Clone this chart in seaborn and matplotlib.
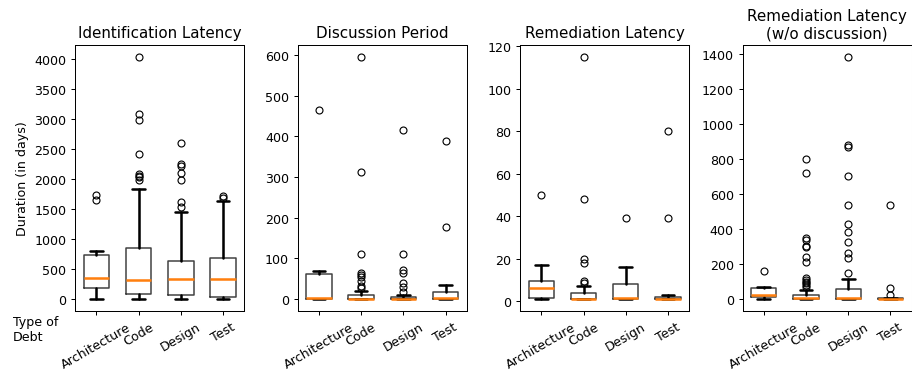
import matplotlib
matplotlib.use("Agg")
import matplotlib.pyplot as plt
import seaborn as sns

# ---------------- data ----------------
categories = ["Architecture", "Code", "Design", "Test"]
panel_titles = ["Identification Latency", "Discussion Period",
                "Remediation Latency", "Remediation Latency\n(w/o discussion)"]

ident_whislo = [0, 0, 0, 0]
ident_q1 = [194, 94, 78, 39]
ident_med = [356, 317, 339, 339]
ident_q3 = [733, 850, 639, 683]
ident_whishi = [800, 1833, 1456, 1639]
ident_fliers = [[1660, 1740],
                [1990, 2030, 2060, 2090, 2420, 2990, 3090, 4040],
                [1530, 1620, 1980, 2100, 2220, 2260, 2600],
                [1680, 1720]]

disc_whislo = [0, 0, 0, 0]
disc_q1 = [0, 0, 0, 0]
disc_med = [3, 1, 1, 3]
disc_q3 = [62, 10, 6.5, 17]
disc_whishi = [70, 19, 11, 36]
disc_fliers = [[465],
               [27, 33, 45, 55, 60, 65, 110, 312, 595],
               [18, 30, 40, 65, 72, 110, 416],
               [178, 388]]

rem_whislo = [1, 1, 1, 1]
rem_q1 = [1.5, 1, 1, 1]
rem_med = [6.3, 1, 1.5, 1]
rem_q3 = [9.6, 3.8, 8, 2.2]
rem_whishi = [17, 7.2, 16.3, 3]
rem_fliers = [[50],
              [8.5, 9.5, 18, 20, 48, 115],
              [39],
              [39, 80]]

remwo_whislo = [0, 0, 0, 0]
remwo_q1 = [13, 3, 0, 0]
remwo_med = [25, 5, 5, 0]
remwo_q3 = [66, 23, 57, 5]
remwo_whishi = [72, 51, 114, 5]
remwo_fliers = [[161],
                [70, 80, 90, 100, 110, 120, 210, 240, 295, 305, 340, 350, 720, 800],
                [150, 237, 262, 329, 384, 427, 536, 703, 868, 878, 1383],
                [23, 63, 535]]

panels = [
    (ident_whislo, ident_q1, ident_med, ident_q3, ident_whishi, ident_fliers),
    (disc_whislo, disc_q1, disc_med, disc_q3, disc_whishi, disc_fliers),
    (rem_whislo, rem_q1, rem_med, rem_q3, rem_whishi, rem_fliers),
    (remwo_whislo, remwo_q1, remwo_med, remwo_q3, remwo_whishi, remwo_fliers),
]

# ---------------- style ----------------
sns.set_style("ticks", {"axes.edgecolor": "black", "text.color": "black",
                        "xtick.color": "black", "ytick.color": "black",
                        "axes.labelcolor": "black"})
plt.rcParams["font.family"] = ["DejaVu Sans"]
plt.rcParams["font.size"] = 10

DPI = 91
fig, axes = plt.subplots(1, 4, figsize=(912 / DPI, 373 / DPI), dpi=DPI)
fig.subplots_adjust(left=0.0826, right=0.9995, top=0.8775, bottom=0.1627, wspace=0.317)

for ax, title, (wl, q1, med, q3, wh, fl) in zip(axes, panel_titles, panels):
    stats = []
    for i, cat in enumerate(categories):
        stats.append(dict(label=cat, whislo=wl[i], q1=q1[i], med=med[i],
                          q3=q3[i], whishi=wh[i], fliers=fl[i]))
    ax.bxp(stats, positions=[1, 2, 3, 4], widths=0.6,
           boxprops=dict(color="#404040", linewidth=1.2),
           whiskerprops=dict(color="black", linewidth=2),
           capprops=dict(color="black", linewidth=2),
           medianprops=dict(color="#ff7f0e", linewidth=2),
           flierprops=dict(marker="o", markerfacecolor="none",
                           markeredgecolor="black", markersize=5.5,
                           markeredgewidth=0.9))
    ax.set_xlim(0.5, 4.5)
    ax.set_xticks([1, 2, 3, 4])
    ax.set_xticklabels(categories, rotation=30)
    ax.set_title(title, fontsize=12)
    ax.tick_params(labelsize=10)

axes[0].set_ylabel("Duration (in days)", fontsize=10)
fig.text(12.7 / 912, 1 - 316 / 373, "Type of\nDebt", ha="left", va="top", fontsize=10)

fig.savefig("out.png", dpi=DPI)
